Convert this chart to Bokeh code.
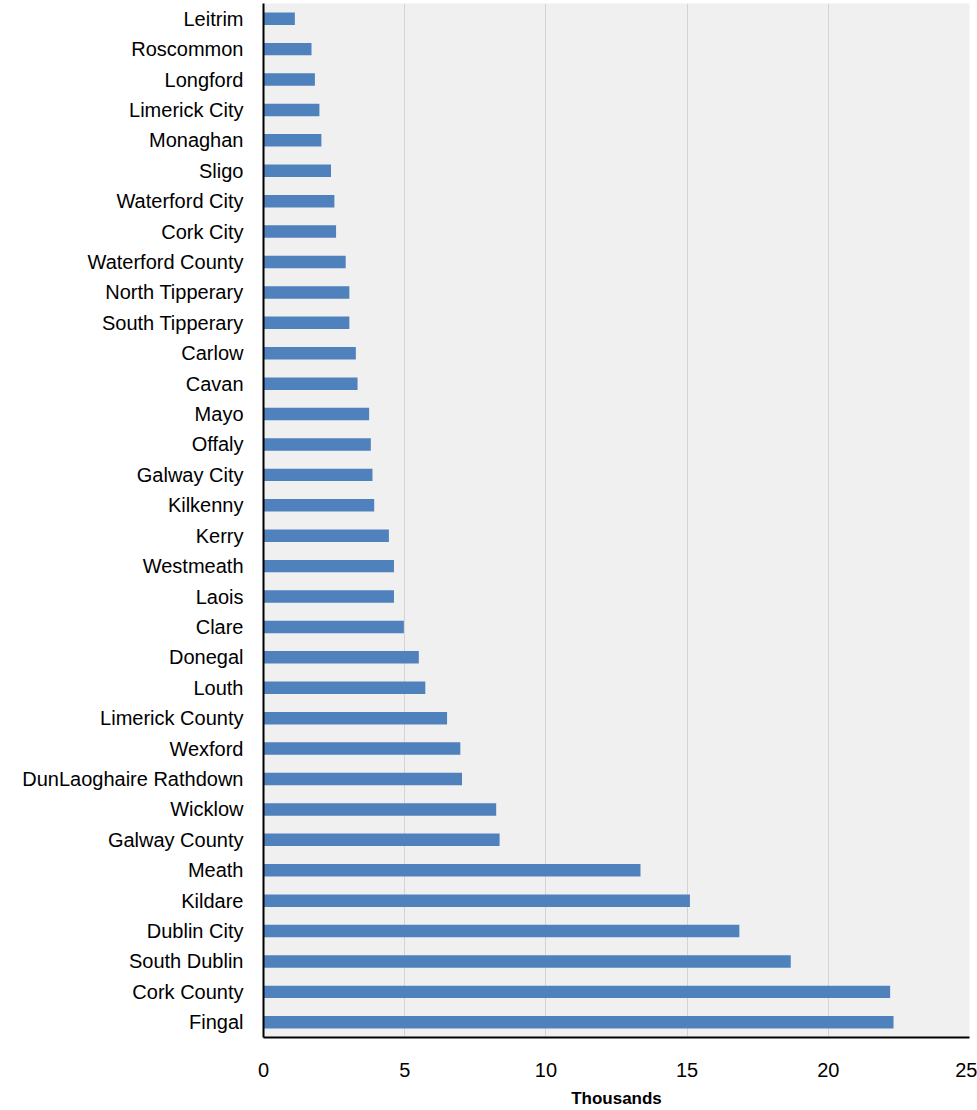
from bokeh.plotting import figure
from bokeh.models import Range1d, FactorRange, ColumnDataSource, FixedTicker
from bokeh.embed import file_html
from bokeh.resources import INLINE

# Categories listed top to bottom as in the chart
counties = ["Leitrim", "Roscommon", "Longford", "Limerick City", "Monaghan", "Sligo",
            "Waterford City", "Cork City", "Waterford County", "North Tipperary",
            "South Tipperary", "Carlow", "Cavan", "Mayo", "Offaly", "Galway City",
            "Kilkenny", "Kerry", "Westmeath", "Laois", "Clare", "Donegal", "Louth",
            "Limerick County", "Wexford", "DunLaoghaire Rathdown", "Wicklow",
            "Galway County", "Meath", "Kildare", "Dublin City", "South Dublin",
            "Cork County", "Fingal"]
# Values in thousands
values = [1.11, 1.70, 1.82, 1.98, 2.05, 2.39, 2.51, 2.57, 2.91, 3.04,
          3.04, 3.27, 3.33, 3.74, 3.80, 3.86, 3.92, 4.44, 4.62, 4.62,
          4.97, 5.50, 5.73, 6.50, 6.97, 7.03, 8.24, 8.36, 13.35, 15.10,
          16.85, 18.67, 22.19, 22.31]
x_ticks = [0, 5, 10, 15, 20, 25]

source = ColumnDataSource(dict(county=counties, value=values))

p = figure(width=977, height=1110, output_backend="svg", toolbar_location=None,
           y_range=FactorRange(factors=list(reversed(counties))),
           x_range=Range1d(0, 25),
           min_border_left=263, min_border_right=8, min_border_top=3, min_border_bottom=73)

p.hbar(y="county", right="value", left=0, height=0.41, source=source,
       fill_color="#4f81bd", line_color=None)

p.background_fill_color = "#f0f0f0"
p.border_fill_color = "white"
p.outline_line_color = None

p.xaxis.ticker = FixedTicker(ticks=x_ticks)
p.xgrid.ticker = FixedTicker(ticks=x_ticks)
p.xgrid.grid_line_color = "#d4d4d4"
p.xgrid.grid_line_width = 1
p.ygrid.grid_line_color = None

for ax in (p.xaxis, p.yaxis):
    ax.axis_line_color = "black"
    ax.axis_line_width = 2
    ax.major_tick_line_color = None
    ax.minor_tick_line_color = None
    ax.major_label_text_font = "Liberation Sans"
    ax.major_label_text_font_size = "20px"
    ax.major_label_text_color = "black"

p.yaxis.major_label_standoff = 14
p.xaxis.major_label_standoff = 19
p.xaxis.axis_label = "Thousands"
p.xaxis.axis_label_text_font = "Liberation Sans"
p.xaxis.axis_label_text_font_style = "bold"
p.xaxis.axis_label_text_font_size = "17px"
p.xaxis.axis_label_text_color = "black"
p.xaxis.axis_label_standoff = 9

open("out.html", "w").write(file_html(p, INLINE))
